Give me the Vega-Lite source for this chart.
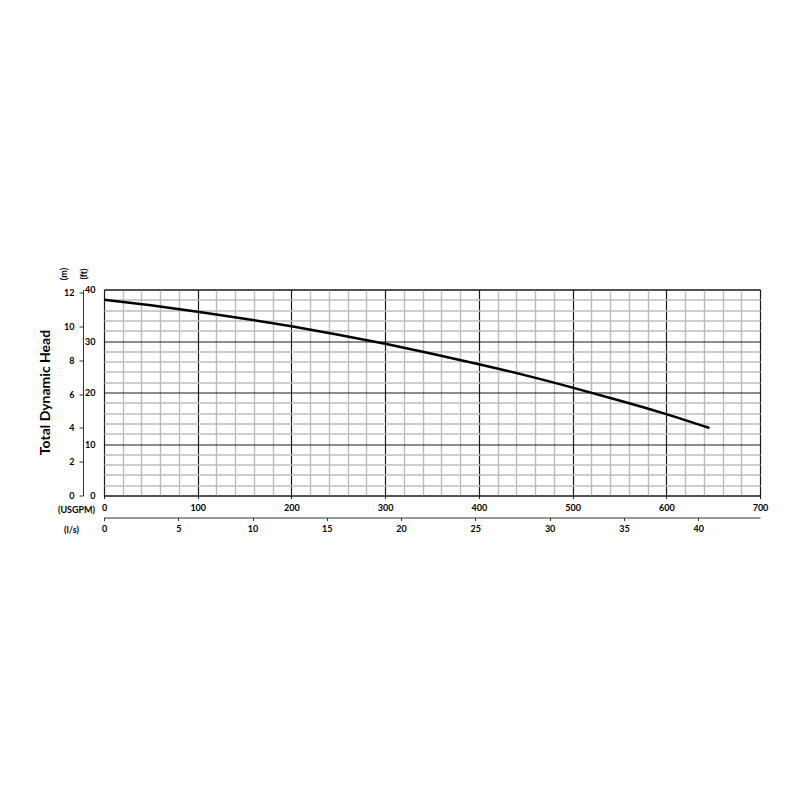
{
  "$schema": "https://vega.github.io/schema/vega-lite/v6.json",
  "autosize": {"type": "none"},
  "width": 656,
  "height": 206,
  "padding": {"left": 104, "top": 289.5, "right": 40, "bottom": 100},
  "background": "white",
  "config": {
    "view": {"stroke": "#111", "strokeWidth": 1},
    "axis": {"labelFont": "Lato", "labelFontWeight": "bold", "labelFontSize": 9, "labelColor": "black", "titleFont": "Lato", "titleFontWeight": "bold", "titleFontSize": 9, "titleColor": "black"}
  },
  "title": {"text": "Total Dynamic Head", "orient": "left", "anchor": "middle", "font": "Lato", "fontSize": 14, "fontWeight": "bold", "color": "black", "offset": 4},
  "data": {"values": [
    {"gpm": 0, "ft": 38.0, "m": 11.58, "ls": 0},
    {"gpm": 50, "ft": 36.92, "m": 11.25, "ls": 3.15},
    {"gpm": 100, "ft": 35.70, "m": 10.88, "ls": 6.31},
    {"gpm": 150, "ft": 34.34, "m": 10.47, "ls": 9.46},
    {"gpm": 200, "ft": 32.85, "m": 10.01, "ls": 12.62},
    {"gpm": 250, "ft": 31.22, "m": 9.52, "ls": 15.77},
    {"gpm": 300, "ft": 29.45, "m": 8.98, "ls": 18.93},
    {"gpm": 350, "ft": 27.54, "m": 8.39, "ls": 22.08},
    {"gpm": 400, "ft": 25.50, "m": 7.77, "ls": 25.24},
    {"gpm": 450, "ft": 23.32, "m": 7.11, "ls": 28.39},
    {"gpm": 500, "ft": 20.95, "m": 6.39, "ls": 31.55},
    {"gpm": 550, "ft": 18.45, "m": 5.62, "ls": 34.70},
    {"gpm": 600, "ft": 15.80, "m": 4.82, "ls": 37.85},
    {"gpm": 646, "ft": 13.10, "m": 3.99, "ls": 40.76}
  ]},
  "layer": [
    {
      "mark": {"type": "line", "color": "black", "strokeWidth": 2.5, "interpolate": "monotone"},
      "encoding": {
        "x": {"field": "gpm", "type": "quantitative", "scale": {"domain": [0, 700], "nice": false, "zero": true},
          "axis": {"orient": "bottom", "values": [0,20,40,60,80,100,120,140,160,180,200,220,240,260,280,300,320,340,360,380,400,420,440,460,480,500,520,540,560,580,600,620,640,660,680,700],
            "labelExpr": "datum.value % 100 === 0 ? datum.label : ''", "labelFlush": false, "labelOverlap": false,
            "grid": true,
            "gridColor": {"condition": {"test": "datum.value % 100 === 0", "value": "#1a1a1a"}, "value": "#bcbcbc"},
            "gridWidth": {"condition": {"test": "datum.value % 100 === 0", "value": 1.2}, "value": 1.4},
            "domain": false, "ticks": true, "tickSize": 3,
            "tickColor": {"condition": {"test": "datum.value % 100 === 0", "value": "#1a1a1a"}, "value": "transparent"},
            "labelPadding": 5,
            "title": "(USGPM)", "titleAngle": 0, "titleX": -28, "titleY": 14, "titleAlign": "center", "titleBaseline": "middle"}},
        "y": {"field": "ft", "type": "quantitative", "scale": {"domain": [0, 40], "nice": false},
          "axis": {"orient": "left", "values": [0,2,4,6,8,10,12,14,16,18,20,22,24,26,28,30,32,34,36,38,40],
            "labelExpr": "datum.value % 10 === 0 ? datum.label : ''", "labelOverlap": false, "labelFlush": false,
            "grid": true,
            "gridColor": {"condition": {"test": "datum.value % 10 === 0", "value": "#1a1a1a"}, "value": "#bcbcbc"},
            "gridWidth": {"condition": {"test": "datum.value % 10 === 0", "value": 1.2}, "value": 1.4},
            "domain": false, "ticks": false, "labelPadding": 9,
            "title": "(ft)", "titleAngle": -90, "titleX": -21, "titleY": -16, "titleAlign": "center", "titleBaseline": "middle"}}
      }
    },
    {
      "mark": {"type": "line", "opacity": 0},
      "encoding": {
        "x": {"field": "gpm", "type": "quantitative", "scale": {"domain": [0, 700], "nice": false}, "axis": null},
        "y": {"field": "m", "type": "quantitative", "scale": {"domain": [0, 12.192], "nice": false},
          "axis": {"orient": "left", "offset": 21, "values": [0,2,4,6,8,10,12], "grid": false,
            "domain": true, "domainColor": "#333", "domainWidth": 1, "ticks": true, "tickSize": 4, "tickColor": "#333",
            "labelPadding": 5, "labelFlush": false,
            "title": "(m)", "titleAngle": -90, "titleX": -20, "titleY": -16, "titleAlign": "center", "titleBaseline": "middle"}}
      }
    },
    {
      "mark": {"type": "line", "opacity": 0},
      "encoding": {
        "x": {"field": "ls", "type": "quantitative", "scale": {"domain": [0, 44.164], "nice": false},
          "axis": {"orient": "bottom", "offset": 22, "values": [0,5,10,15,20,25,30,35,40], "grid": false,
            "domain": true, "domainColor": "#333", "domainWidth": 1, "ticks": true, "tickSize": 3, "tickColor": "#333",
            "labelPadding": 4, "labelFlush": false,
            "title": "(l/s)", "titleAngle": 0, "titleX": -33, "titleY": 12, "titleAlign": "center", "titleBaseline": "middle"}},
        "y": {"field": "ft", "type": "quantitative", "scale": {"domain": [0, 40], "nice": false}, "axis": null}
      }
    }
  ],
  "resolve": {"scale": {"x": "independent", "y": "independent"}, "axis": {"x": "independent", "y": "independent"}}
}
